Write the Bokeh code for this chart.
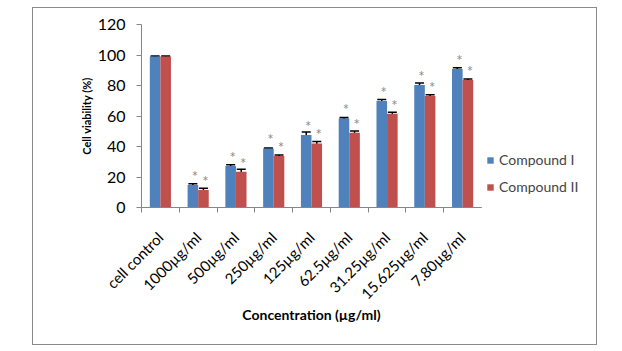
import math
from bokeh.plotting import figure
from bokeh.layouts import row
from bokeh.models import (ColumnDataSource, FixedTicker, Range1d, Legend, LegendItem,
                          Whisker, TeeHead)
from bokeh.embed import file_html
from bokeh.resources import INLINE
from bokeh.core.properties import value

categories = ["cell control", "1000µg/ml", "500µg/ml", "250µg/ml", "125µg/ml",
              "62.5µg/ml", "31.25µg/ml", "15.625µg/ml", "7.80µg/ml"]
compound_1 = [99.0, 14.7, 27.2, 38.7, 47.5, 58.4, 69.9, 80.4, 90.9]
compound_2 = [99.0, 11.4, 23.4, 33.7, 42.0, 49.0, 61.5, 73.1, 83.6]
err_1 = [0.4, 0.8, 0.9, 0.3, 2.0, 0.6, 1.0, 1.2, 0.8]
err_2 = [0.4, 1.3, 1.7, 0.7, 1.3, 1.2, 0.9, 0.8, 0.6]
significance = ["", "*", "*", "*", "*", "*", "*", "*", "*"]
series_names = ["Compound I", "Compound II"]
y_ticks = [0, 20, 40, 60, 80, 100, 120]

FONT = "Lato"
BLUE = "#4F81BD"
RED = "#C0504D"
AXIS = "#868686"

centers = [i + 0.5 for i in range(len(categories))]
bar_w = 0.28
x1 = [c - bar_w / 2 for c in centers]
x2 = [c + bar_w / 2 for c in centers]

src1 = ColumnDataSource(dict(x=x1, top=compound_1,
                             upper=[v + e for v, e in zip(compound_1, err_1)],
                             lower=[v - e for v, e in zip(compound_1, err_1)],
                             sig=significance))
src2 = ColumnDataSource(dict(x=x2, top=compound_2,
                             upper=[v + e for v, e in zip(compound_2, err_2)],
                             lower=[v - e for v, e in zip(compound_2, err_2)],
                             sig=significance))

p = figure(width=448, height=336, x_range=Range1d(0, len(categories)),
           y_range=Range1d(y_ticks[0], y_ticks[-1]),
           output_backend="svg", toolbar_location=None,
           min_border_left=108, min_border_right=0,
           min_border_top=16, min_border_bottom=137)
p.outline_line_color = None
p.xgrid.visible = False
p.ygrid.visible = False
p.background_fill_color = "white"
p.border_fill_color = "white"

r1 = p.vbar(x="x", top="top", width=bar_w, bottom=0, source=src1,
            fill_color=BLUE, line_color=None)
r2 = p.vbar(x="x", top="top", width=bar_w, bottom=0, source=src2,
            fill_color=RED, line_color=None)

for src in (src1, src2):
    w = Whisker(source=src, base="x", upper="upper", lower="lower",
                line_color="black", line_width=1.5,
                upper_head=TeeHead(size=9, line_color="black", line_width=1.5),
                lower_head=TeeHead(size=9, line_color="black", line_width=1.5))
    p.add_layout(w)
    p.text(x="x", y="top", text="sig", source=src, x_offset=2, y_offset=-9,
           text_align="center", text_baseline="middle",
           text_font=value(FONT), text_font_size=value("15px"),
           text_color="#8c8c8c")

# x axis: labels at category centres, ticks at category boundaries
xa = p.xaxis[0]
xa.ticker = FixedTicker(ticks=centers, minor_ticks=list(range(len(categories) + 1)))
xa.major_label_overrides = {c: lab for c, lab in zip(centers, categories)}
xa.major_label_orientation = math.pi / 4
xa.major_tick_out = 0
xa.major_tick_in = 0
xa.minor_tick_out = 5
xa.minor_tick_in = 0
xa.minor_tick_line_color = AXIS
xa.axis_line_color = AXIS
xa.major_label_text_font = FONT
xa.major_label_text_font_size = "15px"
xa.major_label_text_color = "#000000"
xa.major_label_standoff = 22
xa.axis_label = "Concentration (µg/ml)"
xa.axis_label_text_font = FONT
xa.axis_label_text_font_size = "14px"
xa.axis_label_text_font_style = "bold"
xa.axis_label_text_color = "#000000"
xa.axis_label_standoff = -6

ya = p.yaxis[0]
ya.ticker = FixedTicker(ticks=y_ticks)
ya.major_tick_out = 5
ya.major_tick_in = 0
ya.minor_tick_line_color = None
ya.major_tick_line_color = AXIS
ya.axis_line_color = AXIS
ya.major_label_text_font = FONT
ya.major_label_text_font_size = "16px"
ya.major_label_text_color = "#000000"
ya.major_label_standoff = 11
ya.axis_label = "Cell viability (%)"
ya.axis_label_text_font = FONT
ya.axis_label_text_font_size = "11px"
ya.axis_label_text_font_style = "bold"
ya.axis_label_text_color = "#000000"
ya.axis_label_standoff = 2

# legend panel to the right of the plot area (same frame height as the plot;
# its keys reuse the series sources while its own ranges keep those bars out of view)
pl = figure(width=115, height=336, x_range=Range1d(1000, 1001), y_range=Range1d(1000, 1001),
            output_backend="svg", toolbar_location=None,
            x_axis_type=None, y_axis_type=None,
            min_border_left=0, min_border_right=0, min_border_top=16, min_border_bottom=137)
pl.outline_line_color = None
pl.xgrid.visible = False
pl.ygrid.visible = False
pl.background_fill_color = "white"
pl.border_fill_color = "white"
k1 = pl.vbar(x="x", top="top", width=bar_w, source=src1, fill_color=BLUE, line_color=None)
k2 = pl.vbar(x="x", top="top", width=bar_w, source=src2, fill_color=RED, line_color=None)
legend = Legend(items=[LegendItem(label=series_names[0], renderers=[k1]),
                       LegendItem(label=series_names[1], renderers=[k2])],
                location=(5, 12), glyph_width=8, glyph_height=8,
                label_text_font=FONT, label_text_font_size="14px",
                label_standoff=5, label_height=16, spacing=10,
                padding=0, margin=0, border_line_color=None,
                background_fill_alpha=0)
pl.add_layout(legend)

layout = row(p, pl)
layout.margin = (7, 0, 0, 32)
layout.styles = {"border": "1px solid #8a8a8a"}

open("out.html", "w").write(file_html(layout, INLINE))
